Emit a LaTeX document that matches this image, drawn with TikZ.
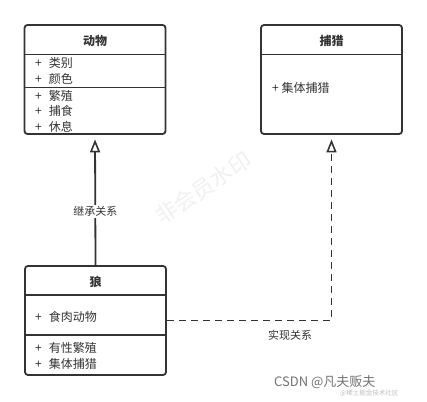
\documentclass[tikz,border=0pt]{standalone}
\usepackage{fontspec}
\setmainfont{Noto Sans CJK SC}
\usetikzlibrary{arrows.meta}
\definecolor{ink}{HTML}{333333}
\definecolor{wm}{HTML}{F0F0F0}
\tikzset{
  umlbox/.style={draw=ink, line width=1.8pt, rounded corners=3pt, minimum width=141pt, minimum height=109pt, inner sep=0pt},
  sepline/.style={draw=ink, line width=1.8pt},
  txt/.style={anchor=west, inner sep=0pt, text=ink, font=\fontsize{12}{14}\selectfont},
  ttl/.style={inner sep=0pt, text=ink, font=\fontsize{12}{14}\selectfont\bfseries},
  conn/.style={draw=ink, line width=1.8pt},
  hollow/.style={-{Triangle[open, length=13pt, width=10pt, line width=1.6pt]}, shorten >=4.5pt},
  lbl/.style={fill=white, inner sep=1.5pt, text=ink, font=\fontsize{11}{13}\selectfont}
}
\begin{document}
\begin{tikzpicture}[x=1pt, y=-1pt]
\useasboundingbox[fill=white] (0,0) rectangle (427,401);
% watermark
\node[rotate=34, text=wm, font=\fontsize{22}{24}\selectfont] (wmark) at (203,188) {非会员水印};
% boxes
\node[umlbox] (animal) at (95,79.5) {};
\node[umlbox] (hunt) at (331.5,79.5) {};
\node[umlbox] (wolf) at (95.5,320.5) {};
% animal
\node[ttl] (animalT) at (95,41) {动物};
\draw[sepline] (24,54.5) -- (166,54.5);
\draw[sepline] (24,87.5) -- (166,87.5);
\node[txt] (a1) at (35,63) {+\hspace{7pt}类别};
\node[txt] (a2) at (35,79) {+\hspace{7pt}颜色};
\node[txt] (a3) at (35,96) {+\hspace{7pt}繁殖};
\node[txt] (a4) at (35,111) {+\hspace{7pt}捕食};
\node[txt] (a5) at (35,127) {+\hspace{7pt}休息};
% hunt
\node[ttl] (huntT) at (331.5,41) {捕猎};
\draw[sepline] (261,54.5) -- (402,54.5);
\node[txt] (h1) at (272,88) {+ 集体捕猎};
% wolf
\node[ttl] (wolfT) at (95.5,282) {狼};
\draw[sepline] (25,295) -- (166,295);
\draw[sepline] (25,335) -- (166,335);
\node[txt] (w1) at (35,317) {+\hspace{7pt}食肉动物};
\node[txt] (w2) at (35,348) {+\hspace{7pt}有性繁殖};
\node[txt] (w3) at (35,364) {+\hspace{7pt}集体捕猎};
% connectors
\draw[conn, hollow] (wolf.north) -- node[lbl, pos=0.41] (inh) {继承关系} (animal.south);
\draw[conn, hollow, dash pattern=on 7pt off 5pt] (wolf.east) -| (hunt.south);
\node[lbl, fill=none] (real) at (290,335) {实现关系};
% CSDN watermark
\node[anchor=west, inner sep=0pt, text=black!55, font=\fontsize{13}{15}\selectfont] (csdn) at (274,382) {CSDN @凡夫贩夫};
\node[anchor=west, inner sep=0pt, text=black!25, font=\fontsize{6.5}{8}\selectfont] (juejin) at (340,393) {@稀土掘金技术社区};
\end{tikzpicture}
\end{document}
